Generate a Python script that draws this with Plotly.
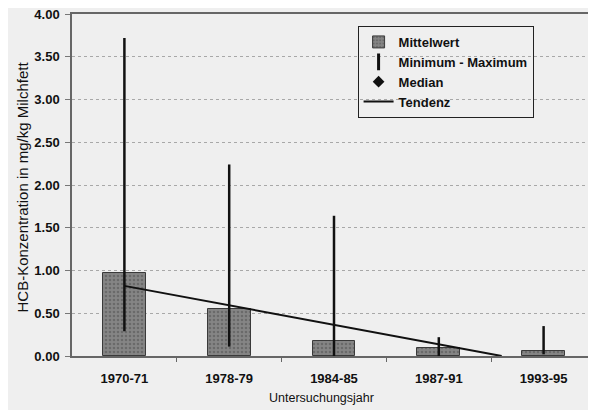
import plotly.graph_objects as go

# ---- data ----
years = ["1970-71", "1978-79", "1984-85", "1987-91", "1993-95"]
mean_values = [0.97, 0.55, 0.18, 0.09, 0.06]
min_values = [0.29, 0.11, 0.00, 0.00, 0.02]
max_values = [3.72, 2.24, 1.64, 0.22, 0.35]
trend_x = [0, 3.6]          # position along the category axis
trend_y = [0.82, 0.00]
y_ticks = [0, 0.5, 1.0, 1.5, 2.0, 2.5, 3.0, 3.5, 4.0]

y_title = "HCB-Konzentration in mg/kg Milchfett"
x_title = "Untersuchungsjahr"

FONT = "Liberation Sans, Arial, sans-serif"
BG = "#efefef"

x_pos = list(range(len(years)))

fig = go.Figure()

# Mittelwert bars
fig.add_trace(go.Bar(
    x=x_pos, y=mean_values, width=0.41, name="Mittelwert",
    marker=dict(color="#858585", line=dict(color="#3a3a3a", width=1),
                pattern=dict(shape=".", fgcolor="#505050", bgcolor="#858585",
                             size=4, solidity=0.35)),
))

# Minimum - Maximum vertical lines
mm_x, mm_y = [], []
for xp, lo, hi in zip(x_pos, min_values, max_values):
    mm_x += [xp, xp, None]
    mm_y += [lo, hi, None]
fig.add_trace(go.Scatter(
    x=mm_x, y=mm_y, mode="lines", line=dict(color="#111111", width=2.5),
    showlegend=False, hoverinfo="skip",
))
# legend entry for min-max
fig.add_trace(go.Scatter(
    x=[None], y=[None], mode="markers", name="Minimum - Maximum",
    marker=dict(symbol="line-ns", size=12, line=dict(color="#111111", width=3)),
))
# legend entry for median
fig.add_trace(go.Scatter(
    x=[None], y=[None], mode="markers", name="Median",
    marker=dict(symbol="diamond", size=9, color="#111111"),
))
# Tendenz
fig.add_trace(go.Scatter(
    x=trend_x, y=trend_y, mode="lines", name="Tendenz",
    line=dict(color="#111111", width=2),
))

# the page has an 8px body margin, so the figure is drawn 8px right/down
fig.update_layout(
    width=588, height=402,
    margin=dict(l=64, r=0, t=6, b=54),
    paper_bgcolor=BG, plot_bgcolor=BG,
    font=dict(family=FONT, size=13, color="#111111"),
    bargap=0,
    legend=dict(
        x=0.545, y=0.965, xanchor="left", yanchor="top",
        bgcolor="rgba(0,0,0,0)", bordercolor="#222222", borderwidth=1,
        font=dict(family=FONT, size=13, color="#111111", weight="bold"),
        traceorder="normal", itemwidth=30,
    ),
    xaxis=dict(
        range=[-0.5, 4.5], tickvals=x_pos, ticktext=years,
        ticks="", showgrid=False, zeroline=False,
        showline=True, linecolor="#666666", linewidth=1.5, mirror=True,
        tickfont=dict(family=FONT, size=13, weight="bold", color="#111111"),
        ticklabelstandoff=10,
        minor=dict(tickvals=[0.5, 1.5, 2.5, 3.5], ticks="outside",
                   ticklen=4, tickcolor="#666666", tickwidth=1),
    ),
    yaxis=dict(
        range=[0, 4], tickvals=y_ticks, tickformat=".2f",
        ticks="outside", ticklen=5, tickcolor="#777777",
        showline=True, linecolor="#666666", linewidth=1.5,
        showgrid=True, gridcolor="#a8a8a8", griddash="dot", gridwidth=1,
        zeroline=False, ticklabeloverflow="allow",
        tickfont=dict(family=FONT, size=13, weight="bold", color="#111111"),
        ticklabelstandoff=3,
    ),
    annotations=[
        dict(text=y_title, xref="paper", yref="paper",
             x=-0.0954, y=0.4927, xanchor="center", yanchor="middle",
             textangle=-90, showarrow=False,
             font=dict(family=FONT, size=15, color="#111111")),
        dict(text=x_title, xref="paper", yref="paper",
             x=0.477, y=-0.122, xanchor="center", yanchor="middle",
             showarrow=False,
             font=dict(family=FONT, size=12.5, color="#111111")),
    ],
)

fig.write_html("out.html")
